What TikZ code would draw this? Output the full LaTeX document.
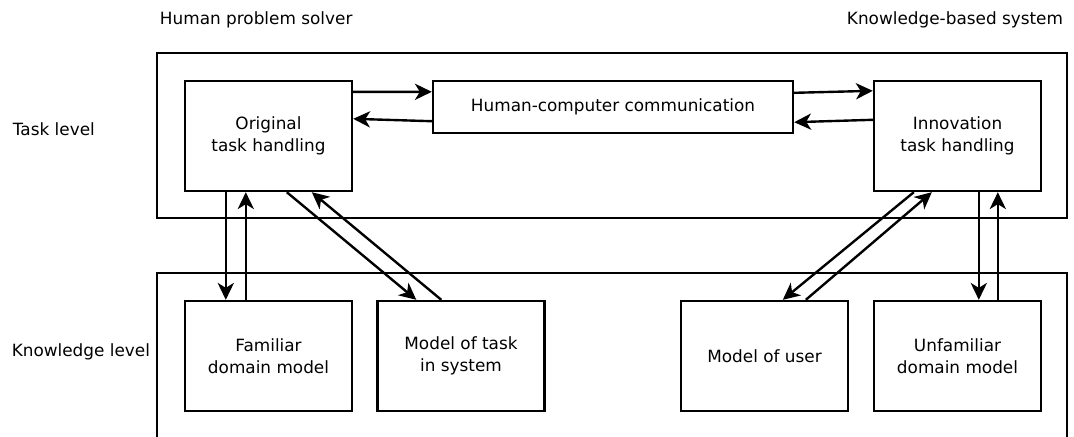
\documentclass[tikz,border=0pt]{standalone}
\usepackage{fontspec}
\setmainfont{DejaVu Sans}
\usetikzlibrary{arrows.meta,calc}

\begin{document}
\begin{tikzpicture}[
  >={Stealth[length=12pt,width=11.5pt,inset=3.5pt]},
  every node/.style={font=\fontsize{12}{15.6}\selectfont, align=center},
  unit/.style  ={draw, line width=1.7pt, minimum width=4.175cm, minimum height=2.75cm, inner sep=2pt},
  comm/.style  ={draw, line width=1.7pt, minimum width=9.0cm, minimum height=1.3cm, inner sep=2pt},
  lvl/.style   ={anchor=west},
  flow/.style  ={->, line width=1.7pt},
]
\useasboundingbox (0,0) rectangle (26.85,-10.9);

%% level frames
\node[draw, line width=1.7pt, minimum width=22.75cm, minimum height=4.125cm] (taskframe) at (15.3,-3.3875) {};
\draw[line width=1.7pt] (3.925,-10.95) -- (3.925,-6.825) -- (26.675,-6.825) -- (26.675,-10.95);

%% headings
\node[anchor=west] (human) at (3.875,-0.5) {Human problem solver};
\node[anchor=east] (kbs)   at (26.7,-0.5) {Knowledge-based system};
\node[lvl] (tasklev) at (0.2,-3.225) {Task level};
\node[lvl] (knowlev) at (0.17,-8.8) {Knowledge level};

%% task level
\node[unit] (orig)  at (6.7125,-3.4)  {Original\\task handling};
\node[comm] (hcc)   at (15.325,-2.675) {Human-computer communication};
\node[unit] (innov) at (23.9375,-3.4) {Innovation\\task handling};

%% knowledge level
\node[unit] (fam)   at (6.7125,-8.9)  {Familiar\\domain model};
\node[unit] (mtask) at (11.525,-8.9)  {Model of task\\in system};
\node[unit] (muser) at (19.1125,-8.9) {Model of user};
\node[unit] (unfam) at (23.9375,-8.9) {Unfamiliar\\domain model};

%% communication
\draw[flow] ($(orig.north east)+(0,-0.3)$) -- ($(hcc.north west)+(0,-0.3)$);
\draw[flow] ($(hcc.south west)+(0,0.325)$) -- ($(orig.north east)+(0,-0.975)$);
\draw[flow] ($(hcc.north east)+(0,-0.325)$) -- ($(innov.north west)+(0,-0.275)$);
\draw[flow] ($(innov.north west)+(0,-1.0)$) -- ($(hcc.south east)+(0,0.3)$);

%% human side
\draw[flow] ($(orig.south west)+(1.05,0)$) -- ($(fam.north west)+(1.05,0)$);
\draw[flow] ($(fam.north west)+(1.55,0)$) -- ($(orig.south west)+(1.55,0)$);
\draw[flow] ($(orig.south west)+(2.575,0)$) -- ($(mtask.north west)+(1.0,0)$);
\draw[flow] ($(mtask.north west)+(1.625,0)$) -- ($(orig.south west)+(3.2,0)$);

%% system side
\draw[flow] ($(innov.south west)+(1.025,0)$) -- ($(muser.north west)+(2.575,0)$);
\draw[flow] ($(muser.north west)+(3.15,0)$) -- ($(innov.south west)+(1.475,0)$);
\draw[flow] ($(innov.south west)+(2.65,0)$) -- ($(unfam.north west)+(2.65,0)$);
\draw[flow] ($(unfam.north west)+(3.125,0)$) -- ($(innov.south west)+(3.125,0)$);

\end{tikzpicture}
\end{document}
